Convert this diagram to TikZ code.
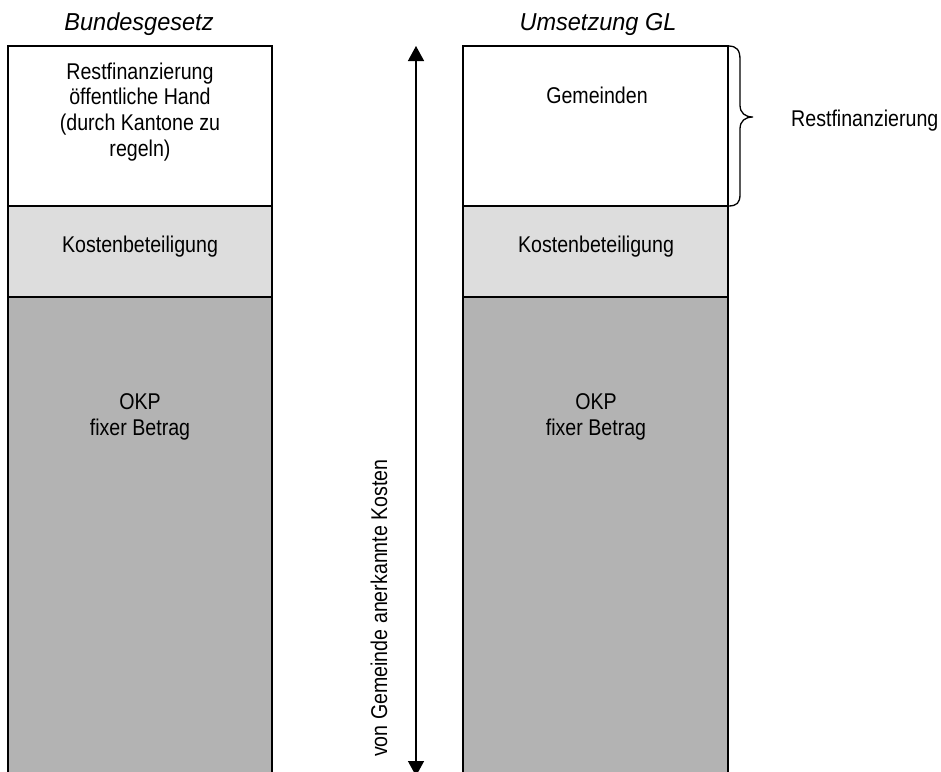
\documentclass[tikz,border=0pt]{standalone}
\usepackage{fontspec}
\setmainfont{Liberation Sans}[FakeStretch=0.86]
\newfontfamily\titlefont{Liberation Sans}[FakeStretch=0.96]
\usetikzlibrary{arrows.meta}
\definecolor{lightbox}{RGB}{221,221,221}
\definecolor{darkbox}{RGB}{179,179,179}
\tikzset{
  col/.style={draw=black, line width=1.4pt},
  body/.style={font=\fontsize{22.8}{25.6}\selectfont, align=center, inner sep=0pt, anchor=base},
  coltitle/.style={font=\titlefont\itshape\fontsize{24.5}{28}\selectfont, inner sep=0pt, anchor=base},
  bracestyle/.style={draw=black, line width=1.3pt},
}
\begin{document}
\begin{tikzpicture}[x=1pt,y=-1pt]
\useasboundingbox (0,0) rectangle (941,771);
\clip (0,0) rectangle (941,771);
% left column
\path[col, fill=white] (8,46) rectangle (272,206);
\path[col, fill=lightbox] (8,206) rectangle (272,297);
\path[col, fill=darkbox] (8,297) rectangle (272,790);
% right column
\path[col, fill=white] (463,46) rectangle (728,206);
\path[col, fill=lightbox] (463,206) rectangle (728,297);
\path[col, fill=darkbox] (463,297) rectangle (728,790);
% titles
\node[coltitle] (t1) at (139,30) {Bundesgesetz};
\node[coltitle] (t2) at (598,30) {Umsetzung GL};
% left texts (base anchor = last line)
\node[body] (l1) at (140,156) {Restfinanzierung\\öffentliche Hand\\(durch Kantone zu\\regeln)};
\node[body] (l2) at (140,252) {Kostenbeteiligung};
\node[body] (l3) at (140,435) {OKP\\fixer Betrag};
% right texts
\node[body] (r1) at (597,103) {Gemeinden};
\node[body] (r2) at (596,252) {Kostenbeteiligung};
\node[body] (r3) at (596,435) {OKP\\fixer Betrag};
% arrow
\coordinate (atop) at (416,46);
\coordinate (abot) at (416,776);
\draw[line width=1.4pt, {Triangle[width=16pt,length=15pt]}-{Triangle[width=16pt,length=15pt]}] (atop) -- (abot);
\node[body, rotate=90] (alabel) at (387,608) {von Gemeinde anerkannte Kosten};
% brace
\coordinate (btop) at (728,46);
\coordinate (bbot) at (728,206);
\coordinate (btip) at (753,117);
\draw[bracestyle] (btop) .. controls (737,46) and (740,50) .. (740,60) -- (740,105)
  .. controls (740,113) and (745,117) .. (btip)
  .. controls (745,117) and (740,121) .. (740,129) -- (740,194)
  .. controls (740,203) and (737,206) .. (bbot);
\node[body, anchor=base west] (rest) at (791,126) {Restfinanzierung};
\end{tikzpicture}
\end{document}
